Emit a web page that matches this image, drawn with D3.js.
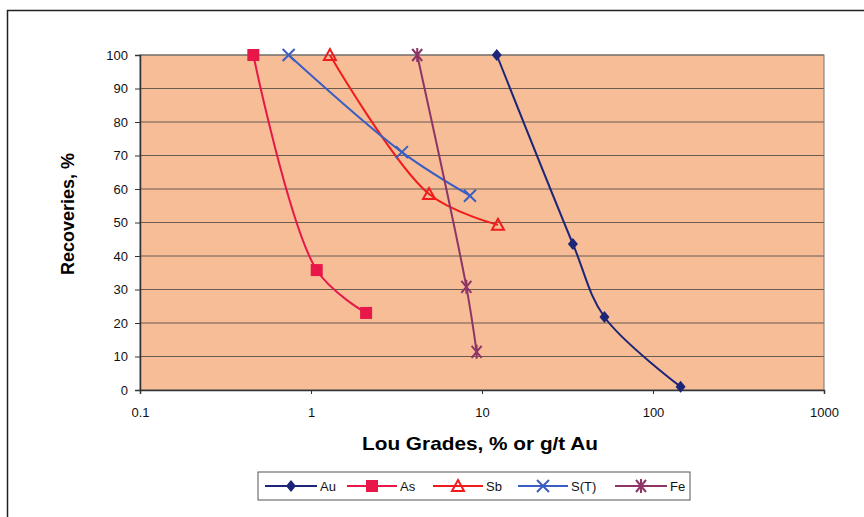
<!DOCTYPE html>
<html>
<head>
<meta charset="utf-8">
<script src="https://cdn.jsdelivr.net/npm/d3@7"></script>
<style>
  body { margin: 0; background: #fff; }
  svg { font-family: "Liberation Sans", Arial, sans-serif; }
</style>
</head>
<body>
<div id="chart"></div>
<script>
// Series (grade, recovery %)
const seriesNames = ["Au", "As", "Sb", "S(T)", "Fe"];
const auGrade = [12.2, 34, 52, 145];
const auRec = [100, 43.6, 21.8, 1];
const asGrade = [0.46, 1.08, 2.1];
const asRec = [100, 35.8, 23];
const sbGrade = [1.29, 4.9, 12.4];
const sbRec = [100, 58.5, 49.3];
const stGrade = [0.74, 3.4, 8.5];
const stRec = [100, 71, 58];
const feGrade = [4.18, 8.1, 9.3];
const feRec = [100, 30.8, 11.4];
const xTicks = [0.1, 1, 10, 100, 1000];
const yTicks = [0, 10, 20, 30, 40, 50, 60, 70, 80, 90, 100];

const series = [
  { name: seriesNames[0], x: auGrade, y: auRec, color: "#1c2577", marker: "diamond" },
  { name: seriesNames[1], x: asGrade, y: asRec, color: "#e8174a", marker: "square" },
  { name: seriesNames[2], x: sbGrade, y: sbRec, color: "#f01c1c", marker: "triangle" },
  { name: seriesNames[3], x: stGrade, y: stRec, color: "#3a5ec4", marker: "x" },
  { name: seriesNames[4], x: feGrade, y: feRec, color: "#8e3566", marker: "star" }
];

const W = 864, H = 517;
const plot = { left: 140, right: 824, top: 55, bottom: 390 };

const svg = d3.select("#chart").append("svg")
  .attr("width", W).attr("height", H);

// chart area border (cropped at right/bottom)
svg.append("rect")
  .attr("x", 7.5).attr("y", 10.5)
  .attr("width", 900).attr("height", 600)
  .attr("fill", "#fff").attr("stroke", "#222").attr("stroke-width", 1.5);

const x = d3.scaleLog().domain([0.1, 1000]).range([plot.left, plot.right]);
const y = d3.scaleLinear().domain([0, 100]).range([plot.bottom, plot.top]);

// plot background
svg.append("rect")
  .attr("x", plot.left).attr("y", plot.top)
  .attr("width", plot.right - plot.left).attr("height", plot.bottom - plot.top)
  .attr("fill", "#f6bd97");

// gridlines
svg.append("g").selectAll("line")
  .data(yTicks.filter(d => d > 0))
  .join("line")
  .attr("x1", plot.left).attr("x2", plot.right)
  .attr("y1", d => y(d)).attr("y2", d => y(d))
  .attr("stroke", "#6b5a50").attr("stroke-width", 1);

// plot border
svg.append("rect")
  .attr("x", plot.left).attr("y", plot.top)
  .attr("width", plot.right - plot.left).attr("height", plot.bottom - plot.top)
  .attr("fill", "none").attr("stroke", "#777").attr("stroke-width", 1);

// axes
const yAxis = svg.append("g")
  .attr("transform", `translate(${plot.left},0)`)
  .call(d3.axisLeft(y).tickValues(yTicks).tickSize(5).tickPadding(7));
const xAxis = svg.append("g")
  .attr("transform", `translate(0,${plot.bottom})`)
  .call(d3.axisBottom(x).tickValues(xTicks).tickSize(4).tickPadding(14)
    .tickFormat(d => String(d)));
[xAxis, yAxis].forEach(g => {
  g.select(".domain").attr("stroke", "#333").attr("stroke-width", 1.5);
  g.selectAll(".tick line").attr("stroke", "#333");
  g.selectAll(".tick text").attr("fill", "#111").style("font-size", "13px");
});

// axis titles
svg.append("text")
  .attr("x", 480).attr("y", 450)
  .attr("text-anchor", "middle")
  .attr("textLength", 236).attr("lengthAdjust", "spacingAndGlyphs")
  .style("font-size", "19px").style("font-weight", "bold")
  .text("Lou Grades, % or g/t Au");
svg.append("text")
  .attr("transform", `translate(74,214) rotate(-90)`)
  .attr("text-anchor", "middle")
  .style("font-size", "18px").style("font-weight", "bold")
  .text("Recoveries, %");

// markers
function drawMarker(g, type, color) {
  if (type === "diamond") {
    g.append("path").attr("d", "M0,-6L5,0L0,6L-5,0Z").attr("fill", color);
  } else if (type === "square") {
    g.append("rect").attr("x", -6).attr("y", -6).attr("width", 12).attr("height", 12)
      .attr("fill", color);
  } else if (type === "triangle") {
    g.append("path").attr("d", "M0,-6L6,5L-6,5Z")
      .attr("fill", "none").attr("stroke", color).attr("stroke-width", 2);
  } else if (type === "x") {
    g.append("path").attr("d", "M-6,-6L6,6M-6,6L6,-6")
      .attr("stroke", color).attr("stroke-width", 2);
  } else if (type === "star") {
    g.append("path").attr("d", "M-5,-6L5,6M-5,6L5,-6M0,-7L0,7")
      .attr("stroke", color).attr("stroke-width", 2);
  }
}

const line = d3.line()
  .x(d => x(d[0])).y(d => y(d[1]))
  .curve(d3.curveCatmullRom.alpha(0.5));

series.forEach(s => {
  const pts = s.x.map((v, i) => [v, s.y[i]]);
  svg.append("path")
    .datum(pts)
    .attr("fill", "none")
    .attr("stroke", s.color)
    .attr("stroke-width", 2)
    .attr("d", line);
  pts.forEach(p => {
    const g = svg.append("g").attr("transform", `translate(${x(p[0])},${y(p[1])})`);
    drawMarker(g, s.marker, s.color);
  });
});

// legend
const legend = svg.append("g");
legend.append("rect")
  .attr("x", 258).attr("y", 472).attr("width", 432).attr("height", 28)
  .attr("fill", "#fff").attr("stroke", "#555").attr("stroke-width", 1);
const legendX = [265, 347, 433, 518, 615];
const legendLen = [52, 50, 50, 50, 52];
series.forEach((s, i) => {
  const x0 = legendX[i], x1 = x0 + legendLen[i], cy = 486;
  legend.append("line")
    .attr("x1", x0).attr("x2", x1).attr("y1", cy).attr("y2", cy)
    .attr("stroke", s.color).attr("stroke-width", 2);
  const g = legend.append("g").attr("transform", `translate(${(x0 + x1) / 2},${cy})`);
  drawMarker(g, s.marker, s.color);
  legend.append("text")
    .attr("x", x1 + 3).attr("y", cy + 4.5)
    .style("font-size", "13px").attr("fill", "#111")
    .text(s.name);
});
</script>
</body>
</html>
